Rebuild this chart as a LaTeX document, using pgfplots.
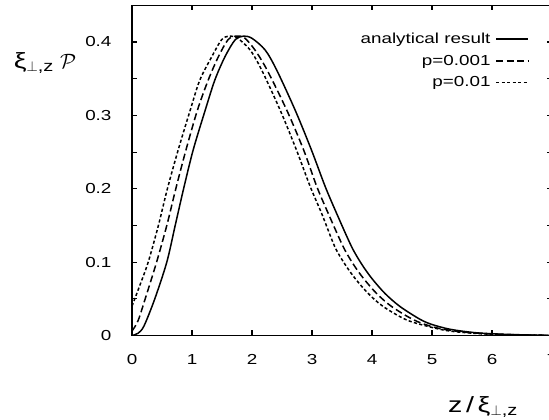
\documentclass[border=0pt]{standalone}
\usepackage{pgfplots}
\pgfplotsset{compat=1.18}
\usepackage{fontspec}
\setmainfont{Liberation Sans}[FakeStretch=1.3]
\begin{document}
\begin{tikzpicture}[x=1pt,y=1pt]
\useasboundingbox (0,0) rectangle (549,420);
\begin{axis}[
  at={(132pt,84.5pt)}, anchor=south west,
  scale only axis, width=420pt, height=330.2pt,
  xmin=0, xmax=7, ymin=0, ymax=0.45,
  xtick={0,1,2,3,4,5,6,7},
  ytick={0,0.1,0.2,0.3,0.4},
  minor ytick={0.05,0.15,0.25,0.35},
  yticklabels={0,0.1,0.2,0.3,0.4},
  tick align=inside,
  major tick length=5pt, minor tick length=5pt,
  every tick/.style={black, line width=1.1pt},
  axis line style={line width=1.6pt},
  /pgf/number format/assume math mode=true,
  tick label style={font=\fontsize{14.5}{16}\selectfont},
  xticklabel style={yshift=-15pt},
  yticklabel style={xshift=-17pt},
  legend plot pos=right,
  legend cell align=right,
  legend style={draw=none, fill=none, at={(axis cs:6.62,0.415)}, anchor=north east,
    font=\fontsize{14.5}{16}\selectfont, row sep=6pt, column sep=3pt, inner sep=0pt},
  legend image code/.code={\draw[#1] (0pt,0pt) -- (32pt,0pt);},
]
\addplot[black, line width=1.5pt, smooth] coordinates {
(0,0) (0.1,0.003) (0.2,0.013) (0.38,0.05) (0.58,0.10) (0.72,0.15) (0.86,0.20) (1.02,0.253)
(1.22,0.307) (1.38,0.348) (1.55,0.380) (1.72,0.403) (1.86,0.408) (2.0,0.405)
(2.22,0.389) (2.41,0.362) (2.72,0.307) (2.99,0.253) (3.22,0.203) (3.41,0.1665)
(3.66,0.121) (3.83,0.097) (4.0,0.0775) (4.22,0.057) (4.47,0.0393) (4.8,0.0221) (5.0,0.015) (5.3,0.0085)
(5.7,0.004) (6.1,0.002) (6.6,0.0007) (7,0.0002)
};
\addlegendentry{analytical result}
\addplot[black, line width=1.5pt, smooth, dash pattern=on 7pt off 3.5pt] coordinates {
(0,0.006) (0.1,0.02) (0.22,0.05) (0.41,0.10) (0.58,0.15) (0.73,0.20) (0.90,0.253)
(1.09,0.307) (1.27,0.348) (1.44,0.380) (1.6,0.403) (1.73,0.408) (1.87,0.406)
(2.05,0.389) (2.25,0.362) (2.58,0.307) (2.86,0.253) (3.08,0.203) (3.27,0.1665)
(3.52,0.121) (3.69,0.097) (3.86,0.0776) (4.08,0.057) (4.33,0.0393) (4.69,0.0215) (5.0,0.012) (5.3,0.007)
(5.7,0.0035) (6.1,0.0017) (6.6,0.0006) (7,0.0002)
};
\addlegendentry{p=0.001}
\addplot[black, line width=1.5pt, smooth, dash pattern=on 3.2pt off 2.3pt] coordinates {
(0,0.04) (0.12,0.066) (0.27,0.10) (0.44,0.15) (0.59,0.20) (0.77,0.253) (0.97,0.307)
(1.13,0.348) (1.33,0.380) (1.49,0.4027) (1.61,0.408) (1.76,0.405) (1.97,0.389)
(2.16,0.362) (2.47,0.307) (2.74,0.253) (2.97,0.203) (3.16,0.1665) (3.38,0.121)
(3.55,0.097) (3.72,0.0776) (3.94,0.057) (4.19,0.0393) (4.58,0.0211) (5.0,0.011) (5.3,0.006) (5.7,0.003)
(6.1,0.0013) (6.6,0.0005) (7,0.0001)
};
\addlegendentry{p=0.01}
\end{axis}
\node[font=\fontsize{22}{24}\selectfont, anchor=center] at (45,357) {ξ\textsubscript{$\perp$,z}\;$\mathcal{P}$};
\node[font=\fontsize{22}{24}\selectfont, anchor=center] at (483,13) {z\,/\,ξ\textsubscript{$\perp$,z}};
\end{tikzpicture}
\end{document}
